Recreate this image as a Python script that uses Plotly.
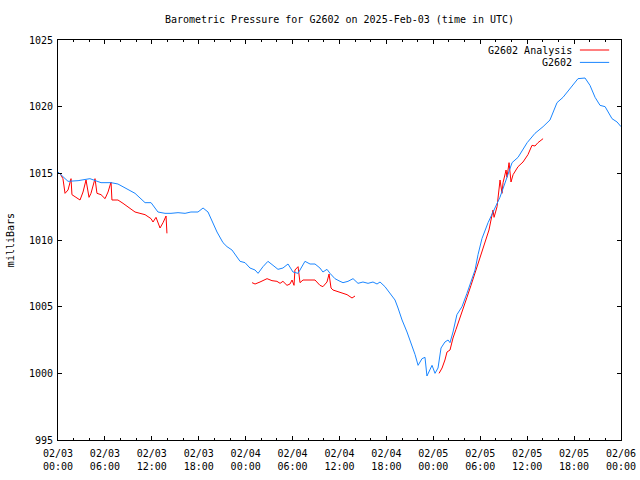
import plotly.graph_objects as go

# ---- data ----
blue_times = [
    "2025-02-03 00:00", "2025-02-03 01:17", "2025-02-03 02:34", "2025-02-03 04:05", "2025-02-03 05:30",
    "2025-02-03 06:47", "2025-02-03 07:40", "2025-02-03 08:34", "2025-02-03 09:51", "2025-02-03 11:08",
    "2025-02-03 11:54", "2025-02-03 12:47", "2025-02-03 13:41", "2025-02-03 14:27", "2025-02-03 15:21",
    "2025-02-03 16:15", "2025-02-03 17:00", "2025-02-03 17:54", "2025-02-03 18:33", "2025-02-03 19:11",
    "2025-02-03 19:49", "2025-02-03 20:20", "2025-02-03 21:06", "2025-02-03 21:37", "2025-02-03 22:15",
    "2025-02-03 22:54", "2025-02-03 23:17", "2025-02-03 23:55", "2025-02-04 00:33", "2025-02-04 01:12",
    "2025-02-04 01:35", "2025-02-04 02:13", "2025-02-04 02:51", "2025-02-04 03:30", "2025-02-04 04:08",
    "2025-02-04 04:46", "2025-02-04 05:25", "2025-02-04 06:03", "2025-02-04 06:42", "2025-02-04 07:35",
    "2025-02-04 08:14", "2025-02-04 08:52", "2025-02-04 09:30", "2025-02-04 09:53", "2025-02-04 10:24",
    "2025-02-04 10:47", "2025-02-04 11:25", "2025-02-04 12:04", "2025-02-04 12:27", "2025-02-04 13:05",
    "2025-02-04 13:44", "2025-02-04 14:22", "2025-02-04 15:00", "2025-02-04 15:39", "2025-02-04 16:17",
    "2025-02-04 16:48", "2025-02-04 17:11", "2025-02-04 17:49", "2025-02-04 18:28", "2025-02-04 19:06",
    "2025-02-04 19:29", "2025-02-04 20:00", "2025-02-04 20:38", "2025-02-04 21:16", "2025-02-04 21:40",
    "2025-02-04 22:03", "2025-02-04 22:33", "2025-02-04 22:56", "2025-02-04 23:11", "2025-02-04 23:50",
    "2025-02-05 00:13", "2025-02-05 00:36", "2025-02-05 00:59", "2025-02-05 01:29", "2025-02-05 01:53",
    "2025-02-05 02:08", "2025-02-05 02:31", "2025-02-05 03:01", "2025-02-05 03:40", "2025-02-05 04:18",
    "2025-02-05 04:57", "2025-02-05 05:20", "2025-02-05 05:43", "2025-02-05 06:13", "2025-02-05 07:00",
    "2025-02-05 07:53", "2025-02-05 08:31", "2025-02-05 09:25", "2025-02-05 10:04", "2025-02-05 10:50",
    "2025-02-05 12:00", "2025-02-05 13:00", "2025-02-05 14:02", "2025-02-05 14:55", "2025-02-05 15:49",
    "2025-02-05 16:35", "2025-02-05 17:29", "2025-02-05 18:30", "2025-02-05 19:24", "2025-02-05 20:02",
    "2025-02-05 20:41", "2025-02-05 21:19", "2025-02-05 21:58", "2025-02-05 22:51", "2025-02-05 23:30",
    "2025-02-06 00:00",
]
blue_values = [
    1015.1, 1014.4, 1014.45, 1014.6, 1014.3,
    1014.3, 1014.2, 1013.9, 1013.5, 1012.8,
    1012.8, 1012.1, 1012.0, 1012.0, 1012.05,
    1012.0, 1012.1, 1012.1, 1012.4, 1012.1,
    1011.3, 1010.6, 1009.8, 1009.5, 1009.25,
    1008.7, 1008.4, 1008.3, 1007.9, 1007.75,
    1007.5, 1008.0, 1008.4, 1008.1, 1007.8,
    1007.9, 1008.2, 1007.6, 1007.5, 1008.4,
    1008.2, 1008.2, 1007.9, 1007.6, 1007.8,
    1007.5, 1007.1, 1006.9, 1006.8, 1006.9,
    1007.1, 1006.75, 1006.85, 1006.75, 1006.85,
    1006.7, 1006.85, 1006.5, 1006.0, 1005.5,
    1004.9, 1004.0, 1003.1, 1002.1, 1001.4,
    1000.6, 1001.1, 1001.2, 999.8, 1000.6,
    1000.0, 1000.4, 1001.9, 1002.35, 1002.5,
    1002.3, 1003.1, 1004.4, 1005.0, 1006.0,
    1007.1, 1007.75, 1008.9, 1010.1, 1011.3,
    1012.4, 1013.2, 1014.7, 1015.8, 1016.2,
    1017.3, 1018.0, 1018.5, 1019.0, 1020.3,
    1020.7, 1021.4, 1022.1, 1022.15, 1021.6,
    1020.7, 1020.1, 1020.0, 1019.1, 1018.85,
    1018.5,
]

analysis_times = [
    "2025-02-03 00:15", "2025-02-03 00:38", "2025-02-03 00:54", "2025-02-03 01:17", "2025-02-03 01:40",
    "2025-02-03 01:47", "2025-02-03 02:18", "2025-02-03 02:49", "2025-02-03 03:12", "2025-02-03 03:35",
    "2025-02-03 03:58", "2025-02-03 04:13", "2025-02-03 04:44", "2025-02-03 04:59", "2025-02-03 05:30",
    "2025-02-03 06:01", "2025-02-03 06:24", "2025-02-03 06:47", "2025-02-03 06:54", "2025-02-03 07:40",
    "2025-02-03 08:19", "2025-02-03 08:57", "2025-02-03 09:51", "2025-02-03 10:29", "2025-02-03 11:08",
    "2025-02-03 11:54", "2025-02-03 12:09", "2025-02-03 12:32", "2025-02-03 13:03", "2025-02-03 13:26",
    "2025-02-03 13:49", "2025-02-03 13:56",
    "2025-02-03 19:00",
    "2025-02-04 00:49", "2025-02-04 01:12", "2025-02-04 01:50", "2025-02-04 02:44", "2025-02-04 03:22",
    "2025-02-04 04:00", "2025-02-04 04:24", "2025-02-04 04:46", "2025-02-04 05:17", "2025-02-04 05:40",
    "2025-02-04 05:56", "2025-02-04 06:11", "2025-02-04 06:18", "2025-02-04 06:42", "2025-02-04 06:57",
    "2025-02-04 07:20", "2025-02-04 08:52", "2025-02-04 09:30", "2025-02-04 09:53", "2025-02-04 10:24",
    "2025-02-04 10:40", "2025-02-04 10:55", "2025-02-04 11:10", "2025-02-04 12:04", "2025-02-04 12:58",
    "2025-02-04 13:36", "2025-02-04 13:59",
    "2025-02-04 19:00",
    "2025-02-05 00:44", "2025-02-05 01:07", "2025-02-05 01:29", "2025-02-05 01:45", "2025-02-05 02:08",
    "2025-02-05 02:31", "2025-02-05 02:54", "2025-02-05 03:17", "2025-02-05 03:48", "2025-02-05 04:18",
    "2025-02-05 04:49", "2025-02-05 05:20", "2025-02-05 06:00", "2025-02-05 06:44", "2025-02-05 07:07",
    "2025-02-05 07:38", "2025-02-05 07:46", "2025-02-05 08:09", "2025-02-05 08:16", "2025-02-05 08:32",
    "2025-02-05 08:47", "2025-02-05 08:55", "2025-02-05 09:18", "2025-02-05 09:25", "2025-02-05 09:41",
    "2025-02-05 09:56", "2025-02-05 10:12", "2025-02-05 10:50", "2025-02-05 11:28", "2025-02-05 12:06",
    "2025-02-05 12:37", "2025-02-05 13:00", "2025-02-05 13:23", "2025-02-05 14:02",
]
analysis_values = [
    1015.0, 1014.6, 1013.5, 1013.75, 1014.6,
    1013.4, 1013.2, 1013.0, 1013.6, 1014.5,
    1013.2, 1013.5, 1014.6, 1013.5, 1013.4,
    1013.1, 1013.6, 1014.35, 1013.0, 1013.0,
    1012.75, 1012.5, 1012.1, 1012.0, 1011.9,
    1011.6, 1011.35, 1011.7, 1010.9, 1011.3,
    1011.8, 1010.5,
    None,
    1006.8, 1006.7, 1006.85, 1007.1, 1006.95,
    1006.9, 1006.75, 1006.9, 1006.6, 1006.7,
    1007.0, 1006.6, 1007.75, 1008.0, 1006.8,
    1007.0, 1007.0, 1006.6, 1006.5, 1006.85,
    1007.45, 1006.4, 1006.25, 1006.1, 1005.9,
    1005.65, 1005.8,
    None,
    1000.0, 1000.4, 1001.0, 1001.6, 1001.75,
    1002.65, 1003.3, 1004.0, 1004.9, 1005.7,
    1006.6, 1007.5, 1008.8, 1010.1, 1010.75,
    1012.25, 1011.7, 1012.5, 1013.2, 1014.5,
    1013.5, 1014.3, 1015.25, 1014.7, 1015.8,
    1014.35, 1014.9, 1015.5, 1015.85, 1016.4,
    1017.1, 1017.05, 1017.3, 1017.6,
]

x_tick_vals = [
    "2025-02-03 00:00", "2025-02-03 06:00", "2025-02-03 12:00", "2025-02-03 18:00",
    "2025-02-04 00:00", "2025-02-04 06:00", "2025-02-04 12:00", "2025-02-04 18:00",
    "2025-02-05 00:00", "2025-02-05 06:00", "2025-02-05 12:00", "2025-02-05 18:00",
    "2025-02-06 00:00",
]
x_tick_text = [
    "02/03<br>00:00", "02/03<br>06:00", "02/03<br>12:00", "02/03<br>18:00",
    "02/04<br>00:00", "02/04<br>06:00", "02/04<br>12:00", "02/04<br>18:00",
    "02/05<br>00:00", "02/05<br>06:00", "02/05<br>12:00", "02/05<br>18:00",
    "02/06<br>00:00",
]
y_range = [995, 1025]

series_names = ["G2602 Analysis", "G2602"]
series_colors = ["#ff0000", "#1a86ff"]

FONT = "DejaVu Sans Mono"

fig = go.Figure()
fig.add_trace(go.Scatter(x=analysis_times, y=analysis_values, mode="lines",
                         name=series_names[0], connectgaps=False,
                         line=dict(color=series_colors[0], width=1), showlegend=False))
fig.add_trace(go.Scatter(x=blue_times, y=blue_values, mode="lines",
                         name=series_names[1],
                         line=dict(color=series_colors[1], width=1), showlegend=False))

# gnuplot-style legend (text then line sample)
for i, (name, col) in enumerate(zip(series_names, series_colors)):
    ypos = 0.975 - i * 0.031
    fig.add_annotation(xref="paper", yref="paper", x=0.9165, y=ypos, text=name,
                       showarrow=False, xanchor="right", yanchor="middle",
                       font=dict(family=FONT, size=10, color="black"))
    fig.add_shape(type="line", xref="paper", yref="paper", x0=0.927, x1=0.979,
                  y0=ypos, y1=ypos, line=dict(color=col, width=1))

fig.add_annotation(xref="paper", yref="paper", x=-0.085, y=0.5, text="milliBars",
                   textangle=-90, showarrow=False, xanchor="center", yanchor="middle",
                   font=dict(family=FONT, size=10, color="black"))

fig.update_layout(
    width=640, height=480,
    margin=dict(l=58, r=19, t=40, b=40),
    paper_bgcolor="white", plot_bgcolor="white",
    font=dict(family=FONT, size=10, color="black"),
    hovermode=False,
    title=dict(text="Barometric Pressure for G2602 on 2025-Feb-03 (time in UTC)",
               x=0.5, xref="paper", xanchor="center",
               y=1 - 19 / 480, yref="container", yanchor="middle",
               font=dict(family=FONT, size=10, color="black")),
    xaxis=dict(type="date", range=["2025-02-03 00:00", "2025-02-06 00:00"],
               tickvals=x_tick_vals, ticktext=x_tick_text, automargin=False,
               showgrid=False, zeroline=False, showline=True, linecolor="black", linewidth=1,
               mirror="ticks", ticks="inside", ticklen=4, tickcolor="black", tickwidth=1,
               ticklabelstandoff=4,
               minor=dict(dtick=2 * 3600 * 1000, tick0="2025-02-03 00:00", ticks="inside",
                          ticklen=2, tickcolor="black", showgrid=False),
               tickfont=dict(family=FONT, size=10, color="black")),
    yaxis=dict(range=y_range, dtick=5, tick0=995, automargin=False,
               showgrid=False, zeroline=False, showline=True, linecolor="black", linewidth=1,
               mirror="ticks", ticks="inside", ticklen=4, tickcolor="black", tickwidth=1,
               ticklabelstandoff=2,
               tickfont=dict(family=FONT, size=10, color="black")),
)

# remove the page's default body margin so the 640x480 figure fills the window exactly
fig.write_html("out.html", config={"displayModeBar": False},
               post_script="document.body.style.margin='0';")
